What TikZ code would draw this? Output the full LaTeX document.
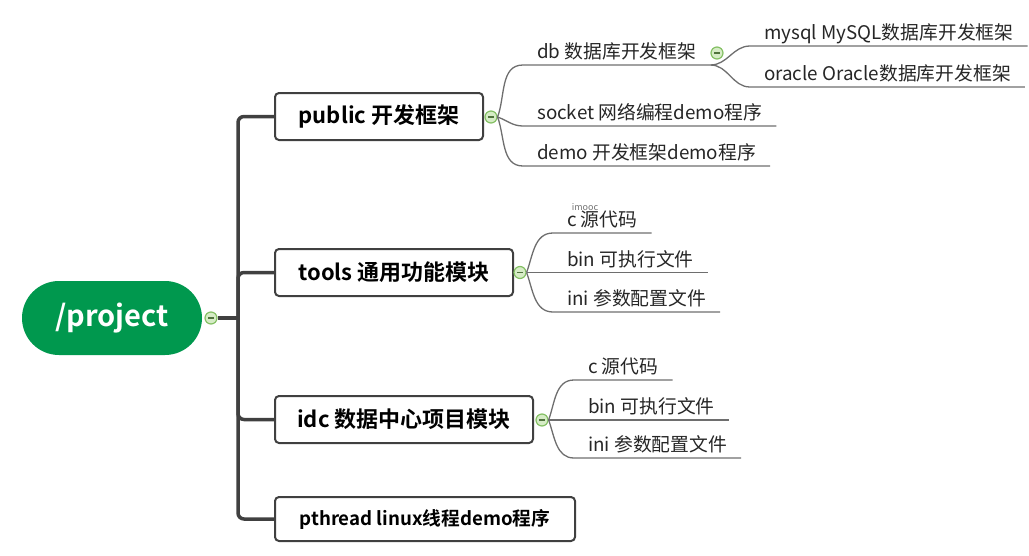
\documentclass[tikz,border=0pt]{standalone}
\usepackage{fontspec}
\setmainfont{Noto Sans CJK SC}[BoldFont={Noto Sans CJK SC Bold}]
\usepackage{tikz}
\definecolor{rootgreen}{RGB}{0,152,78}
\definecolor{linegray}{RGB}{64,64,64}
\definecolor{twiggray}{RGB}{110,110,110}
\definecolor{dotfill}{RGB}{214,236,198}
\definecolor{dotline}{RGB}{132,192,100}

\begin{document}
\begin{tikzpicture}[x=1pt,y=-1pt,
  root/.style={rectangle,rounded corners=37pt,fill=rootgreen,text=white,
    minimum width=180pt,minimum height=74pt,font=\bfseries\fontsize{29}{29}\selectfont},
  topic/.style={rectangle,draw=linegray,line width=2pt,rounded corners=4pt,fill=white,
    anchor=west,minimum height=47pt,font=\bfseries\fontsize{22}{22}\selectfont},
  leaf/.style={anchor=south west,inner xsep=14pt,inner ysep=2pt,text height=14pt,
    text depth=4pt,text=black!85,font=\fontsize{18.8}{18.8}\selectfont},
  dot/.style={circle,draw=dotline,fill=dotfill,line width=1.2pt,minimum size=12pt,inner sep=0pt,
    path picture={\draw[dotline!60!black,line width=1.3pt]
      ([xshift=-3pt]path picture bounding box.center) -- ([xshift=3pt]path picture bounding box.center);}},
  trunk/.style={draw=linegray,line width=3.5pt,rounded corners=6pt},
  twig/.style={draw=twiggray,line width=1.3pt},
  twigup/.style={out=70,in=180},
  twigdn/.style={out=-70,in=180}]
\useasboundingbox (0,0) rectangle (1029,555);

% root and main branches
\node (project) at (112,318) [root] {/project};
\node (d0) at (211,318) [dot] {};
\coordinate (trunk) at (238,318);
\node (public) at (274,116.5) [topic,minimum width=208pt] {public 开发框架};
\node (tools) at (274,272.5) [topic,minimum width=238pt] {tools 通用功能模块};
\node (idc) at (274,419.5) [topic,minimum width=258pt] {idc 数据中心项目模块};
\node (pthread) at (274,519) [topic,minimum width=300pt,minimum height=44pt,
  font=\bfseries\fontsize{18.7}{18.7}\selectfont] {pthread linux线程demo程序};
\draw[trunk] (d0.east) -- (trunk);
\draw[trunk] (trunk) |- (public.west);
\draw[trunk] (trunk) |- (tools.west);
\draw[trunk] (trunk) |- (idc.west);
\draw[trunk] (trunk) |- (pthread.west);

% public
\node (d1) at (491,117) [dot] {};
\node (db) at (523,65) [leaf] {db 数据库开发框架};
\node (socket) at (523,126) [leaf] {socket 网络编程demo程序};
\node (demo) at (523,166) [leaf] {demo 开发框架demo程序};
\node (d4) at (717,53) [dot] {};
\node (mysql) at (750,46) [leaf] {mysql MySQL数据库开发框架};
\node (oracle) at (750,87) [leaf] {oracle Oracle数据库开发框架};
\draw[twig] (d1.east) to[twigup] (db.south west) -- (db.south east) coordinate (fork);
\draw[twig] (d1.east) to[out=-20,in=180] (socket.south west) -- (socket.south east);
\draw[twig] (d1.east) to[twigdn] (demo.south west) -- (demo.south east);
\draw[twig] (fork) to[out=0,in=180] (mysql.south west) -- (mysql.south east);
\draw[twig] (fork) to[out=0,in=180] (oracle.south west) -- (oracle.south east);

% tools
\node (d2) at (520,272.5) [dot] {};
\node (imooc) at (585,207) [text=black!55,font=\fontsize{9}{9}\selectfont] {imooc};
\node (tc) at (553,233) [leaf] {c 源代码};
\node (tbin) at (553,272.5) [leaf] {bin 可执行文件};
\node (tini) at (553,312) [leaf] {ini 参数配置文件};
\draw[twig] (d2.east) to[twigup] (tc.south west) -- (tc.south east);
\draw[twig] (d2.east) -- (tbin.south west) -- (tbin.south east);
\draw[twig] (d2.east) to[twigdn] (tini.south west) -- (tini.south east);

% idc
\node (d3) at (542,420) [dot] {};
\node (ic) at (574,380) [leaf] {c 源代码};
\node (ibin) at (574,420) [leaf] {bin 可执行文件};
\node (iini) at (574,458) [leaf] {ini 参数配置文件};
\draw[twig] (d3.east) to[twigup] (ic.south west) -- (ic.south east);
\draw[twig] (d3.east) -- (ibin.south west) -- (ibin.south east);
\draw[twig] (d3.east) to[twigdn] (iini.south west) -- (iini.south east);
\end{tikzpicture}
\end{document}
